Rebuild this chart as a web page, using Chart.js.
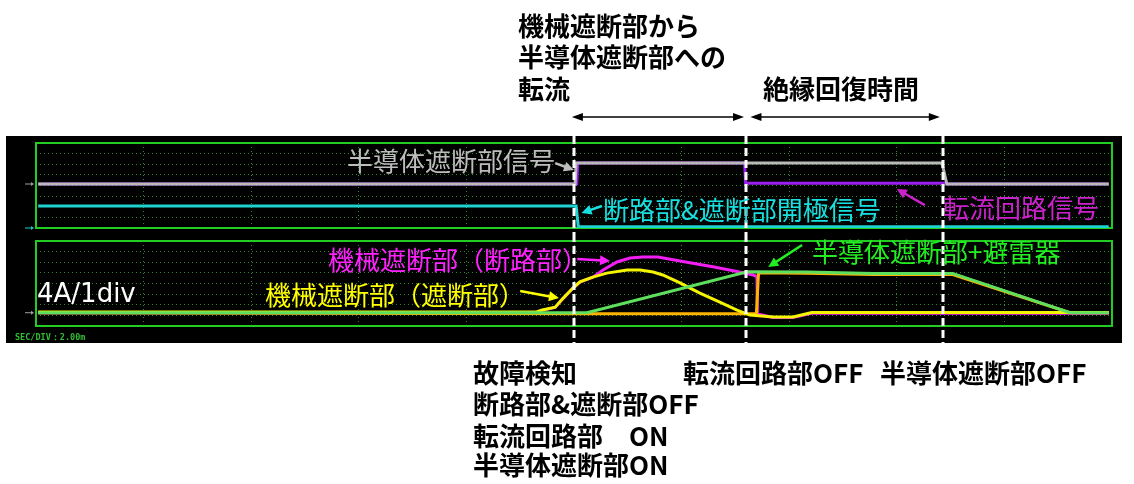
<!DOCTYPE html>
<html><head><meta charset="utf-8">
<script src="https://cdn.jsdelivr.net/npm/chart.js@4.4.1/dist/chart.umd.min.js"></script>
<style>
html,body{margin:0;padding:0;background:#fff;width:1134px;height:484px;overflow:hidden;position:relative;}
#scope{position:absolute;left:6px;top:136px;width:1116px;height:207px;background:#000;}
canvas{position:absolute;left:0;}
#cA{top:0;}
#cB{top:234px;}
.t{position:absolute;white-space:nowrap;font-family:"Noto Sans CJK JP","Noto Sans CJK SC",sans-serif;font-size:26px;line-height:26px;}
.k{color:#000;font-weight:bold;}
</style></head>
<body>
<div id="scope"></div>
<canvas id="cA" width="1134" height="234"></canvas>
<canvas id="cB" width="1134" height="250"></canvas>

<div class="t k" style="left:518px;top:12px;">機械遮断部から</div>
<div class="t k" style="left:518px;top:43px;">半導体遮断部への</div>
<div class="t k" style="left:518px;top:75px;">転流</div>
<div class="t k" style="left:763px;top:75px;">絶縁回復時間</div>

<div class="t k" style="left:473px;top:359px;">故障検知</div>
<div class="t k" style="left:473px;top:390px;">断路部&amp;遮断部OFF</div>
<div class="t k" style="left:473px;top:422px;">転流回路部　ON</div>
<div class="t k" style="left:473px;top:451px;">半導体遮断部ON</div>
<div class="t k" style="left:683px;top:359px;">転流回路部OFF</div>
<div class="t k" style="left:880px;top:359px;">半導体遮断部OFF</div>

<div class="t" style="left:347px;top:147px;color:#bdbdbd;">半導体遮断部信号</div>
<div class="t" style="left:603px;top:196px;color:#18e0e0;">断路部&amp;遮断部開極信号</div>
<div class="t" style="left:943px;top:194px;color:#cc22cc;">転流回路信号</div>
<div class="t" style="left:328px;top:246px;color:#ff22ff;">機械遮断部（断路部）</div>
<div class="t" style="left:265px;top:281px;color:#ffff00;">機械遮断部（遮断部）</div>
<div class="t" style="left:812px;top:238px;color:#22ee22;">半導体遮断部+避雷器</div>
<div class="t" style="left:37px;top:280px;color:#ffffff;font-family:'DejaVu Sans',sans-serif;">4A/1div</div>
<div class="t" style="left:15px;top:333px;color:#33bb33;font-family:'DejaVu Sans Mono',monospace;font-size:8.5px;line-height:9px;font-weight:bold;">SEC/DIV：2.00m</div>

<script>
// ---------- data (time in ms, SEC/DIV = 2.00 ms) ----------
// upper panel: signal levels in divisions
const grayT   = [0.04, 10.02, 10.04, 16.84, 16.93, 19.94];
const grayV   = [4.14, 4.14, 6.12, 6.12, 4.14, 4.14];
const purpleT = [0.04, 10.05, 10.07, 13.17, 13.19, 16.88, 16.93, 19.94];
const purpleV = [4.14, 4.14, 6.12, 6.12, 4.22, 4.22, 4.14, 4.14];
const cyanT   = [0.04, 10.04, 10.08, 19.94];
const cyanV   = [2.07, 2.07, 0.12, 0.12];
// lower panel: currents in A (4 A/div)
const greenT  = [0.04, 10.24, 13.22, 14.33, 15.56, 17.04, 19.22, 19.94];
const greenV  = [0, 0, 15.4, 15.3, 14.8, 14.8, 0, 0];
const yellowT = [0.04, 9.30, 9.41, 9.65, 9.80, 9.98, 10.11, 10.35, 10.61, 10.99, 11.23, 11.47, 11.65, 11.97, 12.34, 12.71, 13.03, 13.27, 13.70, 14.07, 14.42, 19.94];
const yellowV = [0.3, 0.3, 1.0, 2.1, 5.5, 9.3, 11.6, 13.4, 14.9, 16.1, 16.1, 15.3, 14.2, 11.2, 7.4, 4.0, 1.0, -0.9, -1.6, -1.6, 0.1, 0.1];
const orangeT = [0.04, 10.24, 13.39, 13.43, 14.33, 15.56, 17.04, 19.22, 19.94];
const orangeV = [0, -0.4, -0.4, 15.0, 14.9, 14.4, 14.4, 0, 0];
const magentaT = [0.04, 9.30, 9.41, 9.65, 9.80, 9.98, 10.11, 10.35, 10.54, 10.80, 11.04, 11.28, 11.56, 11.97, 12.58, 12.96, 13.33, 13.40, 13.41, 13.70, 14.07, 14.42, 19.94];
const magentaV = [0, 0, 0.9, 2.0, 5.4, 9.2, 11.5, 13.4, 16.1, 19.1, 20.6, 21.0, 21.0, 19.5, 17.3, 15.8, 14.2, 13.6, -0.5, -1.8, -1.8, -0.2, -0.2];
// event times (dashed markers) and grid
const eventTimes = [10.0, 13.2, 16.85];
const spanArrows = [[9.96, 13.16], [13.28, 16.8]];
const upperGrid = [0, 1, 2, 3, 4, 5, 6, 7, 8];
const lowerGrid = [-5, -1, 3, 7, 11, 15, 19, 23, 27];
// label arrows [t1, v1, t2, v2]
const upperArrows = [
  {p:[9.65, 6.1, 10.0, 5.46], c:'#bdbdbd'},
  {p:[10.52, 2.07, 10.14, 1.41], c:'#18e0e0'},
  {p:[16.52, 2.16, 16.0, 3.67], c:'#cc22cc'}
];
const lowerArrows = [
  {p:[10.06, 20.2, 10.67, 19.5], c:'#ff22ff'},
  {p:[9.0, 8.2, 9.72, 5.5], c:'#ffff00'},
  {p:[14.24, 25.5, 13.61, 17.2], c:'#22ee22'}
];

function pts(t, v){ return t.map((x, i) => ({x: x, y: v[i]})); }

function head(ctx, x1, y1, x2, y2, len, w){
  const a = Math.atan2(y2 - y1, x2 - x1);
  ctx.beginPath();
  ctx.moveTo(x2, y2);
  ctx.lineTo(x2 - len*Math.cos(a) + w*Math.sin(a), y2 - len*Math.sin(a) - w*Math.cos(a));
  ctx.lineTo(x2 - len*Math.cos(a) - w*Math.sin(a), y2 - len*Math.sin(a) + w*Math.cos(a));
  ctx.closePath(); ctx.fill();
}

const overlay = {
  id: 'overlay',
  beforeDatasetsDraw(chart, args, o){
    const {ctx, chartArea: a} = chart;
    ctx.save();
    ctx.strokeStyle = '#22cc22'; ctx.lineWidth = 2;
    ctx.strokeRect(a.left, a.top, a.right - a.left, a.bottom - a.top);
    ctx.restore();
  },
  afterDatasetsDraw(chart, args, o){
    const {ctx} = chart;
    const xs = chart.scales.x, ys = chart.scales.y;
    ctx.save();
    (o.markers || []).forEach(m => {
      const y = ys.getPixelForValue(m.v);
      ctx.strokeStyle = m.c; ctx.fillStyle = m.c; ctx.lineWidth = 1;
      ctx.beginPath(); ctx.moveTo(25, y); ctx.lineTo(33, y); ctx.stroke();
      head(ctx, 25, y, 34, y, 3, 2);
    });
    (o.arrows || []).forEach(ar => {
      const x1 = xs.getPixelForValue(ar.p[0]), y1 = ys.getPixelForValue(ar.p[1]);
      const x2 = xs.getPixelForValue(ar.p[2]), y2 = ys.getPixelForValue(ar.p[3]);
      ctx.strokeStyle = ar.c; ctx.fillStyle = ar.c; ctx.lineWidth = 2.5;
      const a = Math.atan2(y2 - y1, x2 - x1);
      ctx.beginPath(); ctx.moveTo(x1, y1); ctx.lineTo(x2 - 8*Math.cos(a), y2 - 8*Math.sin(a)); ctx.stroke();
      head(ctx, x1, y1, x2, y2, 10, 5);
    });
    ctx.strokeStyle = '#ffffff'; ctx.lineWidth = 3; ctx.setLineDash([8, 4]);
    eventTimes.forEach(t => {
      const x = Math.round(xs.getPixelForValue(t));
      ctx.beginPath(); ctx.moveTo(x, o.y0); ctx.lineTo(x, o.y1); ctx.stroke();
    });
    ctx.setLineDash([]);
    if (o.spanY != null) {
      ctx.strokeStyle = '#000'; ctx.fillStyle = '#000'; ctx.lineWidth = 1.5;
      spanArrows.forEach(s => {
        const xa = xs.getPixelForValue(s[0]), xb = xs.getPixelForValue(s[1]);
        const y = o.spanY;
        ctx.beginPath(); ctx.moveTo(xa + 6, y); ctx.lineTo(xb - 6, y); ctx.stroke();
        head(ctx, xb, y, xa, y, 11, 4);
        head(ctx, xa, y, xb, y, 11, 4);
      });
    }
    ctx.restore();
  }
};

function axis(min, max, gridVals){
  return {
    type: 'linear', min: min, max: max,
    afterBuildTicks: s => { s.ticks = gridVals.map(v => ({value: v})); },
    ticks: {display: false},
    grid: {color: '#2b8a2b', lineWidth: 1, drawTicks: false},
    border: {display: false, dash: [1, 3]}
  };
}
const xGrid = [0, 2, 4, 6, 8, 10, 12, 14, 16, 18, 20];

// order: lower number = drawn later (on top)
function ds(data, color, order){
  return {data: data, borderColor: color, borderWidth: 3, pointRadius: 0, tension: 0, fill: false, order: order};
}

new Chart(document.getElementById('cA'), {
  type: 'line',
  data: {datasets: [
    ds(pts(grayT, grayV), '#b9b9b9', 0),
    ds(pts(purpleT, purpleV), '#9b1ff0', 2),
    ds(pts(cyanT, cyanV), '#1ed2d2', 1)
  ]},
  options: {
    responsive: false, animation: false, devicePixelRatio: 1,
    layout: {padding: {left: 36, right: 22, top: 143, bottom: 6}},
    scales: {x: axis(0, 20, xGrid), y: axis(0, 8, upperGrid)},
    plugins: {legend: {display: false}, tooltip: {enabled: false},
      overlay: {y0: 136, y1: 234, spanY: 117, arrows: upperArrows,
        markers: [{v: 4.14, c: '#a0a0a0'}, {v: 0, c: '#1ec8c8'}]}}
  },
  plugins: [overlay]
});

new Chart(document.getElementById('cB'), {
  type: 'line',
  data: {datasets: [
    ds(pts(greenT, greenV), '#5ee05e', 0),
    ds(pts(yellowT, yellowV), '#f4f400', 1),
    ds(pts(orangeT, orangeV), '#ffb400', 2),
    ds(pts(magentaT, magentaV), '#f21ff2', 3)
  ]},
  options: {
    responsive: false, animation: false, devicePixelRatio: 1,
    layout: {padding: {left: 36, right: 22, top: 7, bottom: 158}},
    scales: {x: axis(0, 20, xGrid), y: axis(-5, 27, lowerGrid)},
    plugins: {legend: {display: false}, tooltip: {enabled: false},
      overlay: {y0: 0, y1: 109, arrows: lowerArrows,
        markers: [{v: 0, c: '#a0a0a0'}]}}
  },
  plugins: [overlay]
});
</script>
</body></html>
